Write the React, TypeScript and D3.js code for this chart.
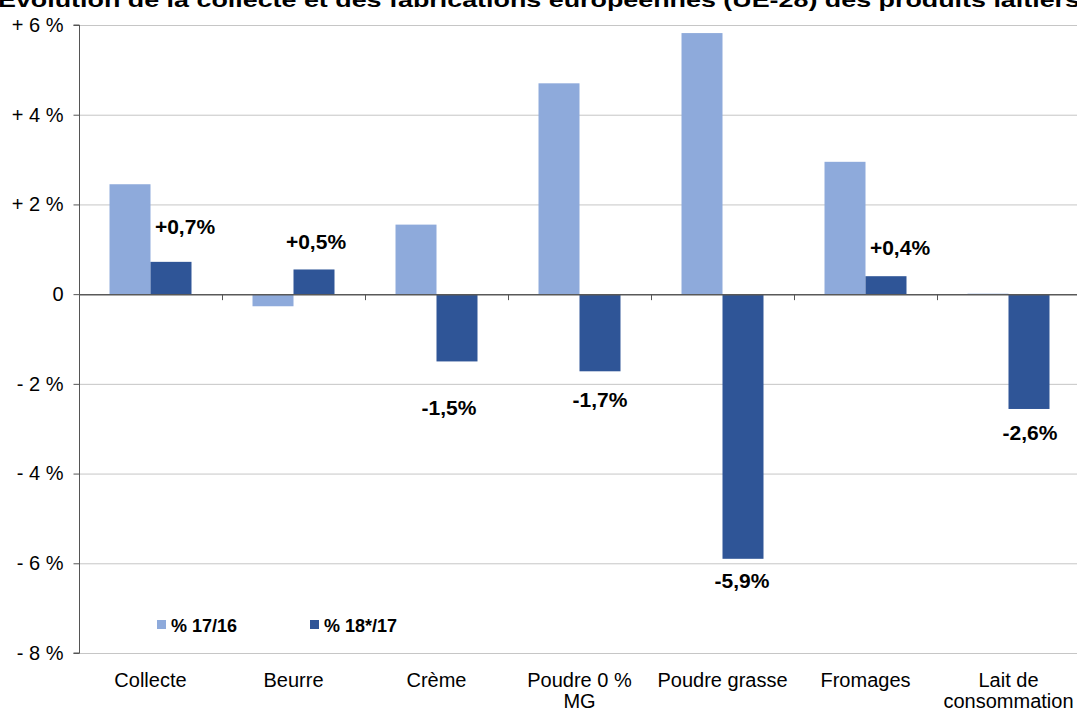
import * as d3 from "d3";
import { useRef, useEffect } from "react";

const WIDTH = 1077;
const HEIGHT = 711;
const MARGIN = { top: 25, right: -3, bottom: 58, left: 79 };

const categories = [
  "Collecte",
  "Beurre",
  "Crème",
  "Poudre 0 % MG",
  "Poudre grasse",
  "Fromages",
  "Lait de consommation",
];
// label lines for the x axis
const categoryLines = [
  ["Collecte"],
  ["Beurre"],
  ["Crème"],
  ["Poudre 0 %", "MG"],
  ["Poudre grasse"],
  ["Fromages"],
  ["Lait de", "consommation"],
];
const series = ["% 17/16", "% 18*/17"];
const values1716 = [2.45, -0.27, 1.55, 4.7, 5.82, 2.95, 0.01];
const values1817 = [0.72, 0.55, -1.5, -1.72, -5.9, 0.4, -2.56];
const valueLabels = ["+0,7%", "+0,5%", "-1,5%", "-1,7%", "-5,9%", "+0,4%", "-2,6%"];
// small nudges for the annotation labels (from the original layout)
const labelNudgeX = [14, 2, -8, 0, -1, 14, 1];
const labelNudgeY = [-28, -20, 54, 36, 29, -21, 31];
const yTicks = [6, 4, 2, 0, -2, -4, -6, -8];
const colors = ["#8eaadb", "#2f5597"];

const fmtTick = (v: number) => (v === 0 ? "0" : v > 0 ? `+ ${v} %` : `- ${-v} %`);

export default function App() {
  const svgRef = useRef(null);

  useEffect(() => {
    const svg = d3.select(svgRef.current);
    svg.selectAll("*").remove();

    const x0 = MARGIN.left;
    const x1 = WIDTH - MARGIN.right;
    const yTop = MARGIN.top;
    const yBot = HEIGHT - MARGIN.bottom;

    const xScale = d3.scaleBand().domain(categories).range([x0, x1]).padding(0);
    const xSub = d3
      .scaleBand()
      .domain(series)
      .range([0, xScale.bandwidth()])
      .paddingInner(0)
      .paddingOuter(0.744);
    const yScale = d3.scaleLinear().domain([-8, 6]).range([yBot, yTop]);

    const font = "Arial, 'Liberation Sans', sans-serif";

    // Title (cut off at the top)
    svg
      .append("text")
      .attr("x", -2)
      .attr("y", 7)
      .attr("textLength", 1082)
      .attr("lengthAdjust", "spacingAndGlyphs")
      .style("font-family", font)
      .style("font-size", "21px")
      .style("font-weight", "bold")
      .text("Évolution de la collecte et des fabrications européennes (UE-28) des produits laitiers");

    // gridlines
    svg
      .append("g")
      .selectAll("line")
      .data(yTicks.filter((t) => t !== 0))
      .enter()
      .append("line")
      .attr("x1", x0)
      .attr("x2", x1)
      .attr("y1", (d) => yScale(d) + 0.5)
      .attr("y2", (d) => yScale(d) + 0.5)
      .attr("stroke", "#c6c6c6")
      .attr("stroke-width", 1);

    // y axis
    const yAxis = svg
      .append("g")
      .attr("transform", `translate(${x0 + 0.5},0)`)
      .call(
        d3
          .axisLeft(yScale)
          .tickValues(yTicks)
          .tickSize(6)
          .tickPadding(10)
          .tickFormat((d) => fmtTick(d as number))
      );
    yAxis.select(".domain").attr("stroke", "#555").attr("d", `M-6,${yTop}H0V${yBot}H-6`);
    yAxis.selectAll(".tick line").attr("stroke", "#555");
    yAxis
      .selectAll(".tick text")
      .style("font-family", font)
      .style("font-size", "20px")
      .attr("fill", "#000");

    // bars
    const data = categories.map((c, i) => ({ c, i, v: [values1716[i], values1817[i]] }));
    const groups = svg
      .append("g")
      .selectAll("g")
      .data(data)
      .enter()
      .append("g")
      .attr("transform", (d) => `translate(${xScale(d.c)},0)`);
    groups
      .selectAll("rect")
      .data((d) => d.v.map((v, k) => ({ s: series[k], v, k })))
      .enter()
      .append("rect")
      .attr("x", (d) => xSub(d.s) as number)
      .attr("y", (d) => yScale(Math.max(0, d.v)))
      .attr("width", xSub.bandwidth())
      .attr("height", (d) => Math.abs(yScale(d.v) - yScale(0)))
      .attr("fill", (d) => colors[d.k]);

    // zero line
    svg
      .append("line")
      .attr("x1", x0)
      .attr("x2", x1)
      .attr("y1", yScale(0) + 0.5)
      .attr("y2", yScale(0) + 0.5)
      .attr("stroke", "#595959")
      .attr("stroke-width", 1.5);

    // category ticks on zero line
    svg
      .append("g")
      .selectAll("line")
      .data(categories.slice(1))
      .enter()
      .append("line")
      .attr("x1", (d) => (xScale(d) as number) + 0.5)
      .attr("x2", (d) => (xScale(d) as number) + 0.5)
      .attr("y1", yScale(0))
      .attr("y2", yScale(0) + 6)
      .attr("stroke", "#555");

    // value labels next to the dark bars
    svg
      .append("g")
      .selectAll("text")
      .data(data)
      .enter()
      .append("text")
      .attr(
        "x",
        (d) =>
          (xScale(d.c) as number) +
          (xSub(series[1]) as number) +
          xSub.bandwidth() / 2 +
          labelNudgeX[d.i]
      )
      .attr("y", (d) => yScale(values1817[d.i]) + labelNudgeY[d.i])
      .attr("text-anchor", "middle")
      .style("font-family", font)
      .style("font-size", "21px")
      .style("font-weight", "bold")
      .text((d) => valueLabels[d.i]);

    // x labels
    const xl = svg
      .append("g")
      .selectAll("text")
      .data(data)
      .enter()
      .append("text")
      .attr("x", (d) => (xScale(d.c) as number) + xScale.bandwidth() / 2)
      .attr("y", 687)
      .attr("text-anchor", "middle")
      .style("font-family", font)
      .style("font-size", "20px");
    xl.selectAll("tspan")
      .data((d) => categoryLines[d.i].map((l, j) => ({ l, j, x: (xScale(d.c) as number) + xScale.bandwidth() / 2 })))
      .enter()
      .append("tspan")
      .attr("x", (d) => d.x)
      .attr("dy", (d) => (d.j === 0 ? 0 : 21))
      .text((d) => d.l);

    // legend
    const legendX = [157, 310];
    const lg = svg
      .append("g")
      .selectAll("g")
      .data(series)
      .enter()
      .append("g")
      .attr("transform", (_, i) => `translate(${legendX[i]},620)`);
    lg.append("rect").attr("width", 9).attr("height", 9).attr("fill", (_, i) => colors[i]);
    lg.append("text")
      .attr("x", 14)
      .attr("y", 12)
      .style("font-family", font)
      .style("font-size", "18px")
      .style("font-weight", "bold")
      .text((d) => d);
  }, []);

  return (
    <svg
      ref={svgRef}
      width={WIDTH}
      height={HEIGHT}
      style={{ position: "absolute", left: 0, top: 0, background: "#fff" }}
    />
  );
}
